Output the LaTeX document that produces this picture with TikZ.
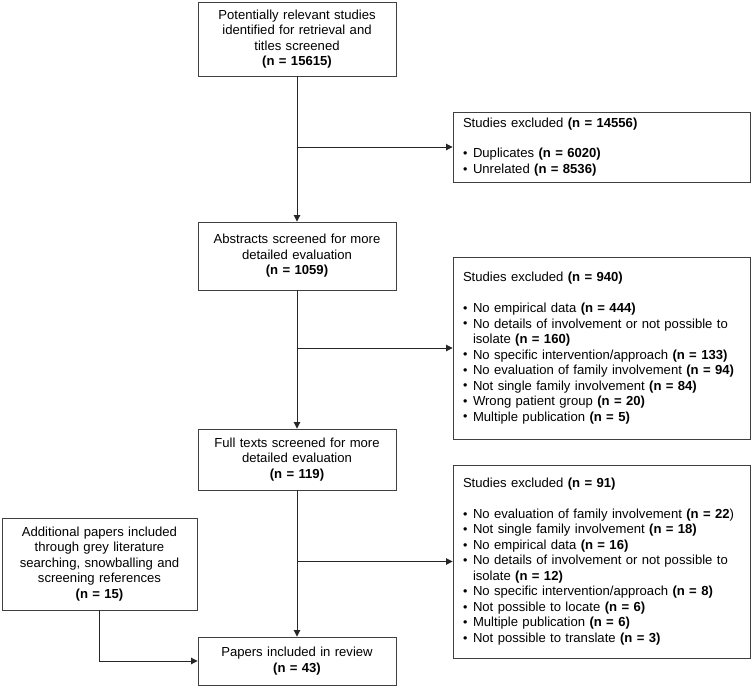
\documentclass[tikz,border=0pt]{standalone}
\usepackage{fontspec}
\usepackage{graphicx}
\setmainfont{Liberation Sans}
\usetikzlibrary{arrows.meta}
\tikzset{
  stagebox/.style={draw=black!75, line width=0.9pt, align=center, inner xsep=2pt,
    text width=194pt, font=\fontsize{13.1}{15.5}\selectfont},
  exclbox/.style={draw=black!75, line width=0.9pt, align=left, inner xsep=10pt,
    text width=277pt, font=\fontsize{13.1}{15.5}\selectfont},
  flow/.style={-{Triangle[length=6.5pt,width=6.5pt]}, line width=0.9pt, black!85}
}
\newcommand{\itm}[1]{\mbox{\makebox[10pt][l]{\raisebox{0.2pt}{\scalebox{0.95}{\textbullet}}}#1}}
\newcommand{\cont}{\hspace*{10pt}}
\begin{document}
\begin{tikzpicture}[x=1pt,y=-1pt]
	\useasboundingbox (0,0) rectangle (753,688);
	% main stages
	\node[stagebox, minimum height=74pt] (ident) at (297,39) {Potentially relevant studies\\identified for retrieval and\\titles screened\\\textbf{(n = 15615)}};
	\node[stagebox, minimum height=68pt] (abstr) at (297,256) {Abstracts screened for more\\detailed evaluation\\\textbf{(n = 1059)}};
	\node[stagebox, minimum height=61pt] (full) at (297,459.5) {Full texts screened for more\\detailed evaluation\\\textbf{(n = 119)}};
	\node[stagebox, minimum height=48pt] (incl) at (297,661) {Papers included in review\\\textbf{(n = 43)}};
	% additional papers
	\node[stagebox, text width=191pt, minimum height=92pt] (extra) at (99.5,564) {Additional papers included\\through grey literature\\searching, snowballing and\\screening references\\\textbf{(n = 15)}};
	% exclusions
	\node[exclbox, minimum height=70pt] (excl1) at (601.5,147) {Studies excluded \textbf{(n = 14556)}\\[15pt]
		\itm{Duplicates \textbf{(n = 6020)}}\\
		\itm{Unrelated \textbf{(n = 8536)}}};
	\node[exclbox, minimum height=182pt] (excl2) at (601.5,348) {Studies excluded \textbf{(n = 940)}\\[15.5pt]
		\itm{No empirical data \textbf{(n = 444)}}\\
		\itm{No details of involvement or not possible to}\\
		\cont isolate \textbf{(n = 160)}\\
		\itm{No specific intervention/approach \textbf{(n = 133)}}\\
		\itm{No evaluation of family involvement \textbf{(n = 94)}}\\
		\itm{Not single family involvement \textbf{(n = 84)}}\\
		\itm{Wrong patient group \textbf{(n = 20)}}\\
		\itm{Multiple publication \textbf{(n = 5)}}};
	\node[exclbox, minimum height=193pt] (excl3) at (601.5,561.5) {Studies excluded \textbf{(n = 91)}\\[15.5pt]
		\itm{No evaluation of family involvement \textbf{(n = 22})}\\
		\itm{Not single family involvement \textbf{(n = 18)}}\\
		\itm{No empirical data \textbf{(n = 16)}}\\
		\itm{No details of involvement or not possible to}\\
		\cont isolate \textbf{(n = 12)}\\
		\itm{No specific intervention/approach \textbf{(n = 8)}}\\
		\itm{Not possible to locate \textbf{(n = 6)}}\\
		\itm{Multiple publication \textbf{(n = 6)}}\\
		\itm{Not possible to translate \textbf{(n = 3)}}};
	% flow down
	\draw[flow] (ident) -- (abstr);
	\draw[flow] (abstr) -- (full);
	\draw[flow] (full) -- (incl);
	% branches to exclusions
	\draw[flow] (ident.south |- excl1.west) -- (excl1.west);
	\draw[flow] (abstr.south |- excl2.west) -- (excl2.west);
	\draw[flow] (full.south |- excl3.west) -- (excl3.west);
	% extra papers
	\draw[flow] (extra.south) |- (incl.west);
\end{tikzpicture}
\end{document}
